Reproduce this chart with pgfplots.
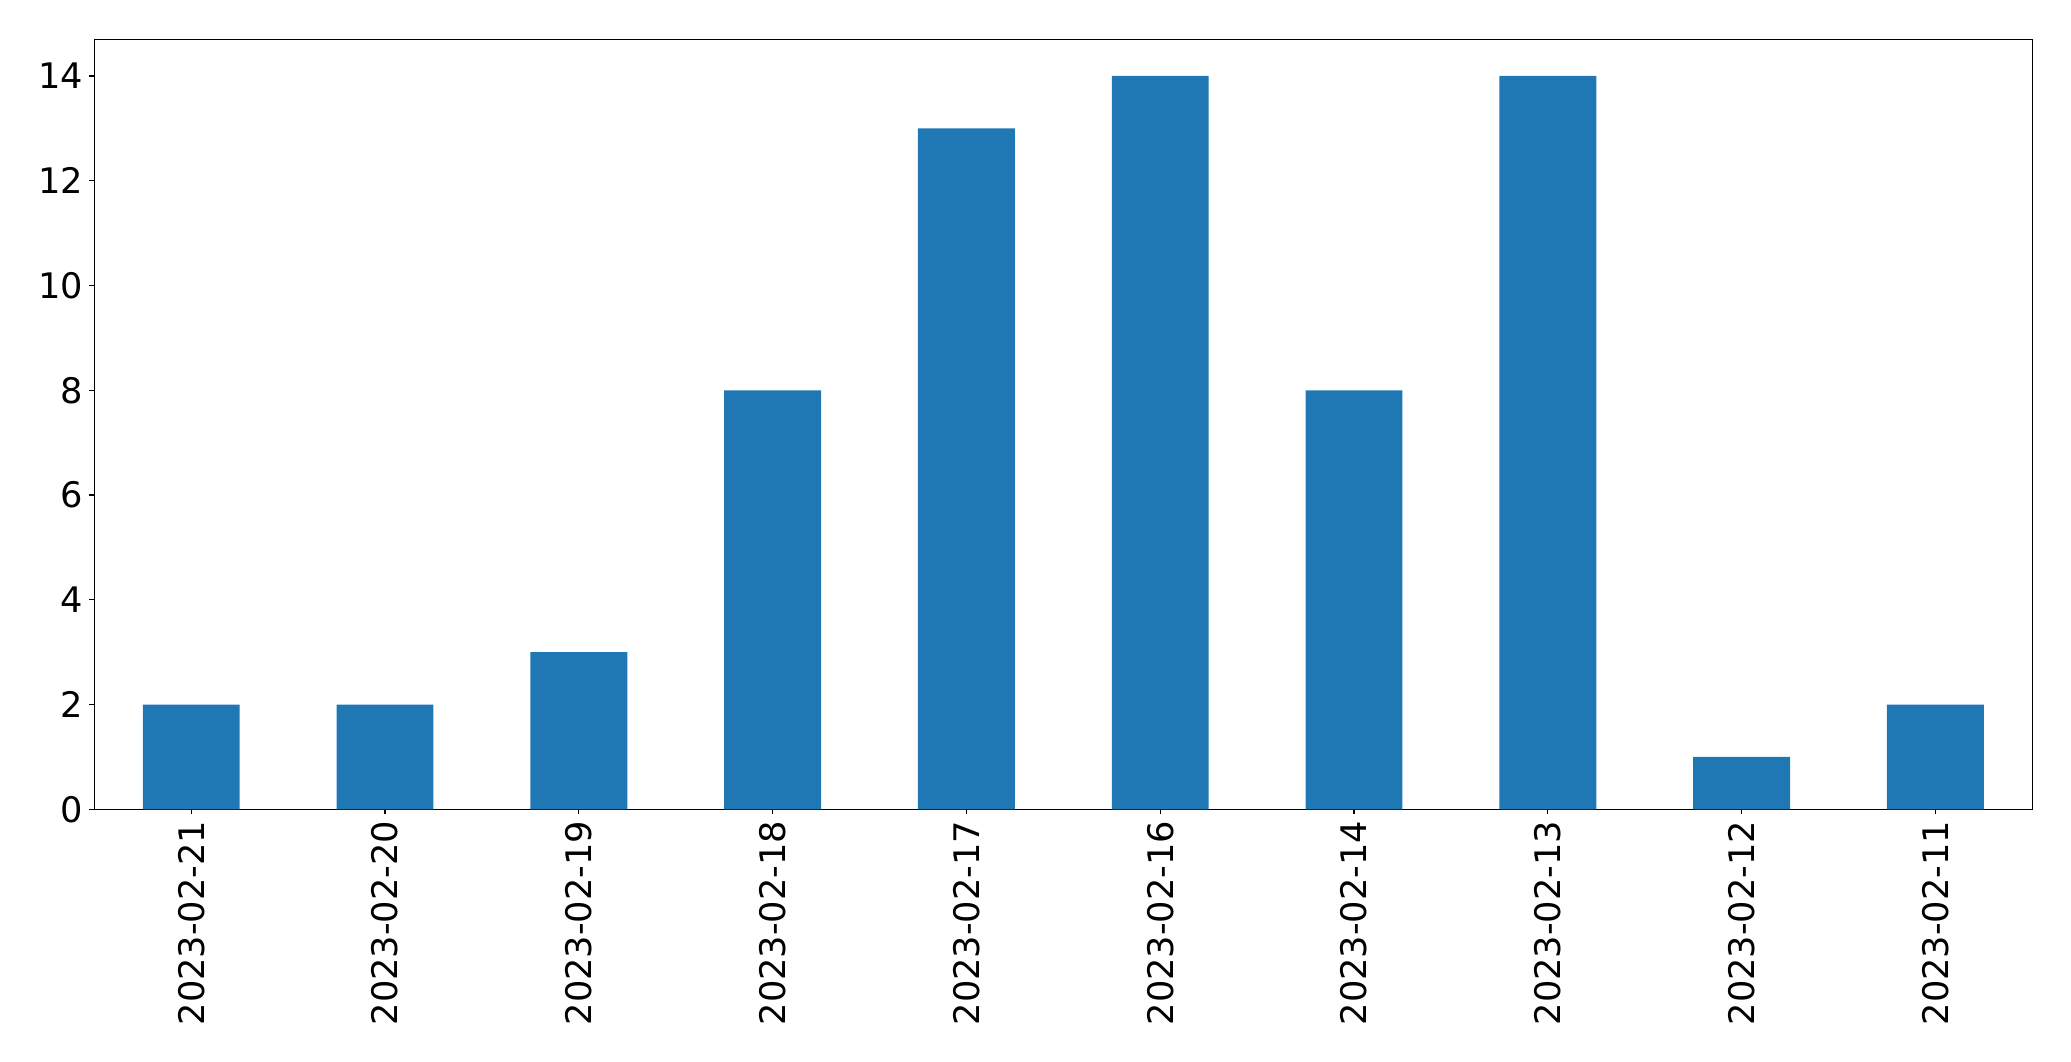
\documentclass[border=0pt]{standalone}
\usepackage{fontspec}
\setmainfont{DejaVu Sans}
\usepackage{pgfplots}
\pgfplotsset{compat=1.18}
\definecolor{mplblue}{HTML}{1F77B4}
\begin{document}
\begin{tikzpicture}
\begin{axis}[name=ax, scale only axis, width=969pt, height=385pt,
 xmin=-0.5, xmax=9.5, ymin=0, ymax=14.7,
 xtick={0,1,...,9},
 xticklabels={2023-02-21,2023-02-20,2023-02-19,2023-02-18,2023-02-17,2023-02-16,2023-02-14,2023-02-13,2023-02-12,2023-02-11},
 ytick={0,2,...,14},
 tick align=outside, major tick length=2.5pt,
 tick style={black, line width=0.6pt},
 axis line style={line width=0.6pt},
 tick pos=left,
 ticklabel style={font=\fontsize{17.6}{21}\selectfont},
 /pgf/number format/assume math mode=true,
 xticklabel style={rotate=90, anchor=east, inner sep=3pt},
 yticklabel style={inner sep=3pt},
]
\addplot[ybar, bar width=0.5, fill=mplblue, draw=none] coordinates {
(0,2) (1,2) (2,3) (3,8) (4,13) (5,14) (6,8) (7,14) (8,1) (9,2)};
\end{axis}
\pgfresetboundingbox
\path[use as bounding box] ([xshift=-47.15pt,yshift=-125.85pt]ax.south west) rectangle ([xshift=19.35pt,yshift=19.65pt]ax.north east);
\end{tikzpicture}
\end{document}
